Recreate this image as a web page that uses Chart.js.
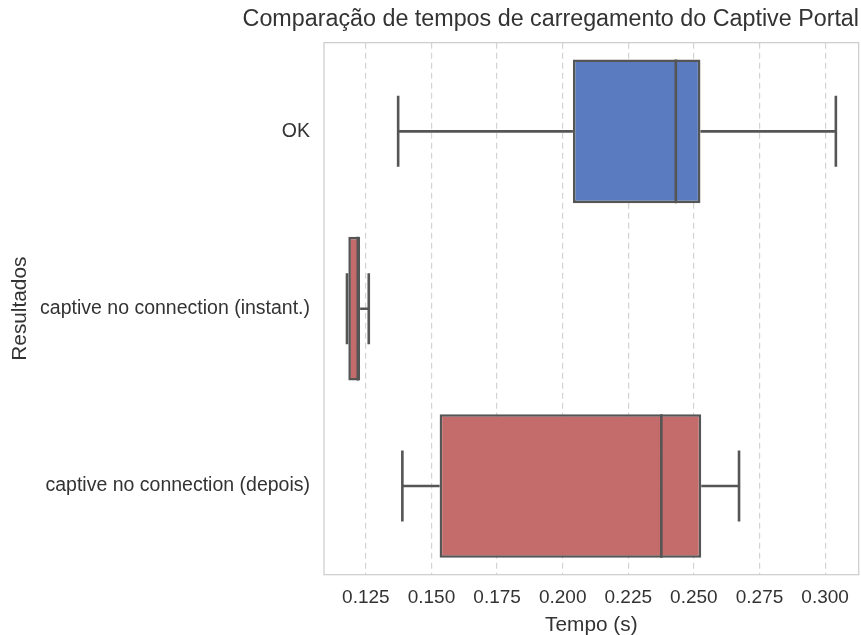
<!DOCTYPE html>
<html>
<head>
<meta charset="utf-8">
<script src="https://cdn.jsdelivr.net/npm/chart.js@4"></script>
<style>
  html, body { margin: 0; padding: 0; background: #ffffff; }
  #wrap { width: 861px; height: 635px; position: relative; }
</style>
</head>
<body>
<div id="wrap"><canvas id="c" width="861" height="635"></canvas></div>
<script>
// ---- data ----
const categories = ['OK', 'captive no connection (instant.)', 'captive no connection (depois)'];
const whiskerMin = [0.1373, 0.1178, 0.1389];
const q1Values   = [0.2039, 0.1183, 0.1531];
const medianVals = [0.2431, 0.1219, 0.2376];
const q3Values   = [0.2525, 0.1228, 0.2528];
const whiskerMax = [0.3041, 0.1261, 0.2672];
const tickValues = [0.125, 0.150, 0.175, 0.200, 0.225, 0.250, 0.275, 0.300];
const tickLabels = ['0.125', '0.150', '0.175', '0.200', '0.225', '0.250', '0.275', '0.300'];
const boxColors  = ['#5a7bc0', '#c46c6c', '#c46c6c'];
const titleText  = 'Comparação de tempos de carregamento do Captive Portal';
const xTitle     = 'Tempo (s)';
const yTitle     = 'Resultados';

const EDGE = '#555555';
const FONT = "'Liberation Sans', Arial, sans-serif";

const boxData = categories.map((_, i) => [q1Values[i], q3Values[i]]);

const whiskerPlugin = {
  id: 'whiskers',
  beforeDatasetsDraw(chart) {
    const { ctx, chartArea: a } = chart;
    ctx.save();
    ctx.strokeStyle = '#cccccc';
    ctx.lineWidth = 1.2;
    ctx.strokeRect(a.left, a.top, a.right - a.left, a.bottom - a.top);
    ctx.restore();
  },
  afterDatasetsDraw(chart) {
    const { ctx } = chart;
    const xs = chart.scales.x, ys = chart.scales.y;
    const meta = chart.getDatasetMeta(0);
    const step = Math.abs(ys.getPixelForValue(1) - ys.getPixelForValue(0));
    ctx.save();
    ctx.strokeStyle = EDGE;
    ctx.lineWidth = 2.6;
    ctx.lineCap = 'butt';
    categories.forEach((_, i) => {
      const y = ys.getPixelForValue(i);
      const capH = step * 0.2;
      const xmin = xs.getPixelForValue(whiskerMin[i]);
      const xq1 = xs.getPixelForValue(q1Values[i]);
      const xq3 = xs.getPixelForValue(q3Values[i]);
      const xmax = xs.getPixelForValue(whiskerMax[i]);
      const xmed = xs.getPixelForValue(medianVals[i]);
      const bar = meta.data[i];
      const half = bar.height / 2;
      ctx.beginPath();
      ctx.moveTo(xmin, y); ctx.lineTo(xq1, y);
      ctx.moveTo(xq3, y); ctx.lineTo(xmax, y);
      ctx.moveTo(xmin, y - capH); ctx.lineTo(xmin, y + capH);
      ctx.moveTo(xmax, y - capH); ctx.lineTo(xmax, y + capH);
      ctx.moveTo(xmed, y - half); ctx.lineTo(xmed, y + half);
      ctx.stroke();
    });
    ctx.restore();
  }
};

new Chart(document.getElementById('c'), {
  type: 'bar',
  data: {
    labels: categories,
    datasets: [{
      data: boxData,
      backgroundColor: boxColors,
      borderColor: EDGE,
      borderWidth: 2.6,
      borderSkipped: false,
      barPercentage: 0.81,
      categoryPercentage: 1.0
    }]
  },
  options: {
    indexAxis: 'y',
    responsive: false,
    animation: false,
    devicePixelRatio: 1,
    layout: { padding: { left: 0, right: 2, top: 0, bottom: 0 } },
    plugins: {
      legend: { display: false },
      tooltip: { enabled: false },
      title: {
        display: true,
        text: titleText,
        align: 'end',
        color: '#333333',
        font: { family: FONT, size: 23.3, weight: 'normal', lineHeight: 1.2 },
        padding: { top: 6, bottom: 8.7 }
      }
    },
    scales: {
      x: {
        type: 'linear',
        min: 0.10904,
        max: 0.3128,
        afterBuildTicks(scale) { scale.ticks = tickValues.map(v => ({ value: v })); },
        afterFit(scale) { scale.height = 60.3; },
        ticks: {
          callback: (v) => { const k = tickValues.findIndex(t => Math.abs(t - v) < 1e-9); return k >= 0 ? tickLabels[k] : ''; },
          color: '#333333',
          font: { family: FONT, size: 19 },
          padding: 12,
          maxRotation: 0,
          autoSkip: false
        },
        grid: { color: '#d3d3d3', lineWidth: 1.2, drawTicks: false, tickLength: 0 },
        border: { display: false, dash: [6, 4] },
        title: {
          display: true, text: xTitle, color: '#333333',
          font: { family: FONT, size: 20.8, lineHeight: 0.9 },
          padding: { top: 0, bottom: 0 }
        }
      },
      y: {
        type: 'category',
        afterFit(scale) { scale.width = 324; },
        ticks: {
          color: '#333333',
          font: { family: FONT, size: 19.5 },
          padding: 14
        },
        grid: { display: false, drawTicks: false },
        border: { display: false },
        title: {
          display: true, text: yTitle, color: '#333333',
          font: { family: FONT, size: 20.8, lineHeight: 1.2 },
          padding: { top: 8, bottom: 0 }
        }
      }
    }
  },
  plugins: [whiskerPlugin]
});
</script>
</body>
</html>
